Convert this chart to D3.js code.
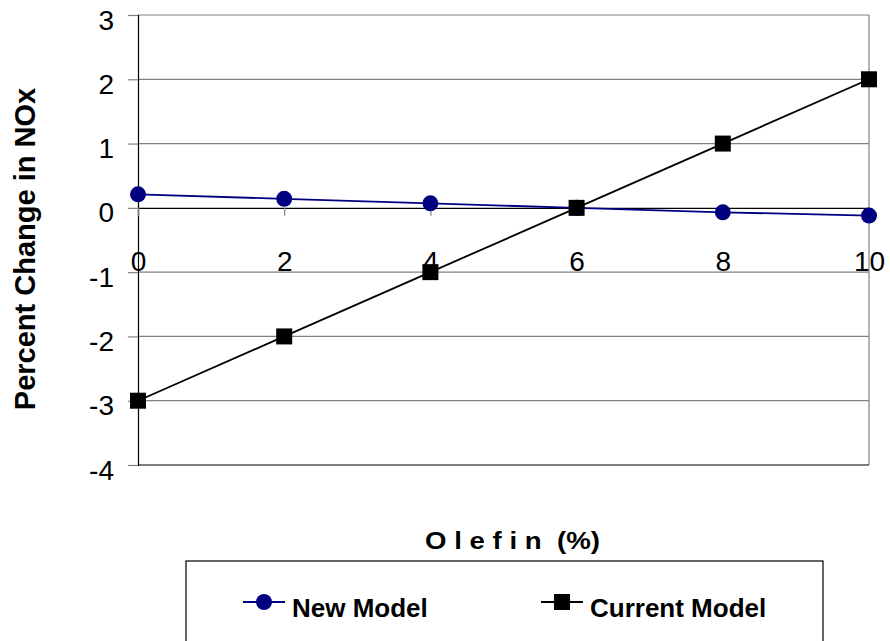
<!DOCTYPE html>
<html>
<head>
<meta charset="utf-8">
<script src="https://cdn.jsdelivr.net/npm/d3@7"></script>
<style>
	body { margin: 0; background: #fff; }
	svg { display: block; font-family: "Liberation Sans", Arial, sans-serif; }
</style>
</head>
<body>
<div id="chart"></div>
<script>
const olefin = [0, 2, 4, 6, 8, 10]
const newModel = [0.21, 0.14, 0.07, 0, -0.07, -0.12]
const currentModel = [-3, -2, -1, 0, 1, 2]
const yTicks = [3, 2, 1, 0, -1, -2, -3, -4]
const seriesNames = ["New Model", "Current Model"]

const width = 890
const height = 641
const plot = { left: 138, right: 869, top: 15, bottom: 465 }

const svg = d3.select("#chart").append("svg")
	.attr("width", width)
	.attr("height", height)

const x = d3.scaleLinear().domain([0, 10]).range([plot.left, plot.right])
const y = d3.scaleLinear().domain([-4, 3]).range([plot.bottom, plot.top])

// gridlines
svg.append("g")
	.selectAll("line")
	.data(yTicks.filter((d) => d !== 0 && d !== -4))
	.join("line")
	.attr("x1", plot.left)
	.attr("x2", plot.right)
	.attr("y1", (d) => y(d))
	.attr("y2", (d) => y(d))
	.attr("stroke", "#808080")
	.attr("stroke-width", 1.2)

// right border
svg.append("line")
	.attr("x1", plot.right).attr("x2", plot.right)
	.attr("y1", plot.top).attr("y2", plot.bottom)
	.attr("stroke", "#808080")
	.attr("stroke-width", 1.2)

// bottom border
svg.append("line")
	.attr("x1", plot.left).attr("x2", plot.right)
	.attr("y1", plot.bottom).attr("y2", plot.bottom)
	.attr("stroke", "#000")
	.attr("stroke-width", 1.2)

const fmt = (d) => String(d)

// y axis
const yAxis = svg.append("g")
	.attr("transform", `translate(${plot.left},0)`)
	.call(d3.axisLeft(y).tickValues(yTicks).tickSize(10).tickPadding(14).tickFormat(fmt))
yAxis.select(".domain").attr("stroke", "#000").attr("stroke-width", 1.2)
yAxis.selectAll(".tick line").attr("stroke", "#808080").attr("stroke-width", 1.2)
yAxis.selectAll("text")
	.attr("dy", "0.5em")
	.style("font-size", "28px")
	.style("font-family", "Liberation Sans, Arial, sans-serif")
	.attr("fill", "#000")

// x axis at y = 0
const xAxis = svg.append("g")
	.attr("transform", `translate(0,${y(0)})`)
	.call(d3.axisBottom(x).tickValues(olefin).tickSize(8).tickPadding(35).tickFormat(fmt))
xAxis.select(".domain").attr("stroke", "#000").attr("stroke-width", 1.2)
xAxis.selectAll(".tick line").attr("stroke", "#808080").attr("stroke-width", 1.2)
xAxis.selectAll("text")
	.style("font-size", "28px")
	.style("font-family", "Liberation Sans, Arial, sans-serif")
	.attr("fill", "#000")

// lines
const line = (vals) => d3.line()
	.x((d, i) => x(olefin[i]))
	.y((d) => y(d))(vals)

svg.append("path")
	.attr("d", line(newModel))
	.attr("fill", "none")
	.attr("stroke", "#000080")
	.attr("stroke-width", 1.8)

svg.append("path")
	.attr("d", line(currentModel))
	.attr("fill", "none")
	.attr("stroke", "#000")
	.attr("stroke-width", 1.8)

svg.append("g")
	.selectAll("circle")
	.data(newModel)
	.join("circle")
	.attr("cx", (d, i) => x(olefin[i]))
	.attr("cy", (d) => y(d))
	.attr("r", 8)
	.attr("fill", "#000080")

const sq = 16
svg.append("g")
	.selectAll("rect")
	.data(currentModel)
	.join("rect")
	.attr("x", (d, i) => x(olefin[i]) - sq / 2)
	.attr("y", (d) => y(d) - sq / 2)
	.attr("width", sq)
	.attr("height", sq)
	.attr("fill", "#000")

// axis titles
svg.append("text")
	.attr("x", 425)
	.attr("y", 549)
	.attr("textLength", 175)
	.attr("lengthAdjust", "spacingAndGlyphs")
	.style("font-size", "23px")
	.style("font-weight", "bold")
	.style("white-space", "pre")
	.text("O l e f i n  (%)")

svg.append("text")
	.attr("transform", `translate(35,249) rotate(-90)`)
	.attr("text-anchor", "middle")
	.style("font-size", "29px")
	.style("font-weight", "bold")
	.text("Percent Change in NOx")

// legend
svg.append("rect")
	.attr("x", 186)
	.attr("y", 561)
	.attr("width", 637)
	.attr("height", 100)
	.attr("fill", "#fff")
	.attr("stroke", "#000")
	.attr("stroke-width", 1.2)

const legendX = [243, 541]
seriesNames.forEach((name, i) => {
	const g = svg.append("g").attr("transform", `translate(${legendX[i]},602)`)
	g.append("line")
		.attr("x1", 0).attr("x2", 42)
		.attr("stroke", i === 0 ? "#000080" : "#000")
		.attr("stroke-width", 1.8)
	if (i === 0) {
		g.append("circle").attr("cx", 21).attr("r", 8).attr("fill", "#000080")
	} else {
		g.append("rect").attr("x", 13).attr("y", -8).attr("width", 16).attr("height", 16).attr("fill", "#000")
	}
	g.append("text")
		.attr("x", 49)
		.attr("y", 15)
		.style("font-size", "26px")
		.style("font-weight", "bold")
		.text(name)
})
</script>
</body>
</html>
